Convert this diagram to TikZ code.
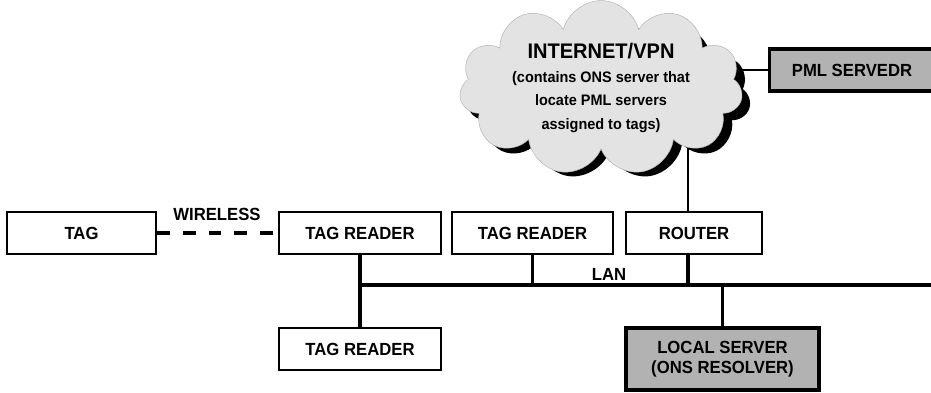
\documentclass[tikz,border=0pt]{standalone}
\usepackage{fontspec}
\setmainfont{Liberation Sans}[FakeStretch=0.95]
\usepackage{tikz}
\usetikzlibrary{shapes.symbols}
\definecolor{cloudgrey}{rgb}{0.89,0.89,0.89}
\definecolor{servergrey}{rgb}{0.70,0.70,0.70}
\pgfdeclarelayer{bg}
\pgfsetlayers{bg,main}

\begin{document}
\begin{tikzpicture}
  [x=0.03cm,y=-0.03cm,
   box/.style={draw,line width=1.8pt,minimum height=1.26cm,inner sep=0pt,
     font=\fontsize{15}{17}\selectfont\bfseries},
   greybox/.style={box,fill=servergrey,line width=2.6pt},
   puffs/.style={cloud,cloud puffs=11,cloud ignores aspect,
     minimum width=8.5cm,minimum height=4.95cm,inner sep=0pt},
   lan/.style={line width=2.8pt}]

  \useasboundingbox (0,0) rectangle (931,392);

  \node[box,minimum width=4.47cm] (tag) at (81.5,233) {TAG};
  \node[box,minimum width=4.86cm] (tr1) at (360,233) {TAG READER};
  \node[box,minimum width=4.83cm] (tr2) at (532.5,233) {TAG READER};
  \node[box,minimum width=4.08cm] (router) at (694,233) {ROUTER};
  \node[box,minimum width=4.86cm] (tr3) at (360,349) {TAG READER};
  \node[greybox,minimum width=5.79cm,minimum height=1.86cm,align=center]
    (local) at (722.5,359) {LOCAL SERVER\\(ONS RESOLVER)};
  \node[greybox,minimum width=4.95cm] (pml) at (852,70) {PML SERVEDR};

  % black shadow under the cloud
  \node[puffs,fill=black] (cloudshadow) at (609,97) {};
  \node[puffs,fill=cloudgrey,draw=gray!60,align=center,
    font=\fontsize{13}{20}\selectfont\bfseries]
    (cloud) at (601,88)
    {{\fontsize{18}{20}\selectfont INTERNET/VPN}\\(contains ONS server that\\
     locate PML servers\\assigned to tags)};

  \node[font=\fontsize{15}{17}\selectfont\bfseries] (wl) at (217,214) {WIRELESS};
  \node[font=\fontsize{15}{17}\selectfont\bfseries] (lanlabel) at (609,274) {LAN};

  \coordinate (rtap) at (688,285);
  \coordinate (lanL) at (tr1.south |- rtap);
  \coordinate (lanR) at (931,285);
  \coordinate (tap2) at (tr2.south |- rtap);
  \coordinate (rtop) at (router.south -| rtap);
  \coordinate (tap4) at (local.north |- rtap);

  \begin{pgfonlayer}{bg}
    \draw[line width=2pt] (rtap |- cloud.center) -- (rtap |- router.north);
    \draw[line width=2pt] (pml.west) -- (cloud.center |- pml.west);
  \end{pgfonlayer}

  \draw[line width=2.8pt,dash pattern=on 11pt off 11pt] (tag.east) -- (tr1.west);

  \draw[lan] (lanL) -- (lanR);
  \foreach \from/\to in {tr1.south/tr3.north,tr2.south/tap2,rtop/rtap,local.north/tap4}
    \draw[lan] (\from) -- (\to);
\end{tikzpicture}
\end{document}
